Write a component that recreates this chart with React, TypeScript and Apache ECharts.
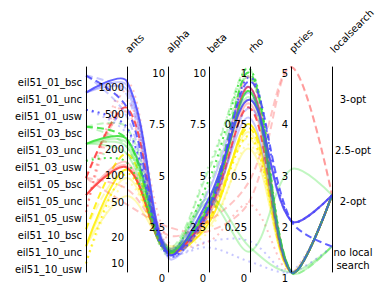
import React, { useEffect, useRef } from 'react';
import * as echarts from 'echarts';

const instances = [
  'eil51_01_bsc', 'eil51_01_unc', 'eil51_01_usw',
  'eil51_03_bsc', 'eil51_03_unc', 'eil51_03_usw',
  'eil51_05_bsc', 'eil51_05_unc', 'eil51_05_usw',
  'eil51_10_bsc', 'eil51_10_unc', 'eil51_10_usw',
];
const localSearchLevels = ['no local search', '2-opt', '2.5-opt', '3-opt'];
const antsTicks = [10, 20, 50, 100, 200, 500, 1000];
const axisNames = ['', 'ants', 'alpha', 'beta', 'rho', 'ptries', 'localsearch'];

// one entry per configuration line (column arrays)
const lineInstance = [
  'eil51_01_bsc', 'eil51_01_bsc', 'eil51_01_bsc',
  'eil51_01_unc', 'eil51_01_unc', 'eil51_01_unc',
  'eil51_01_usw', 'eil51_01_usw', 'eil51_01_usw',
  'eil51_03_bsc', 'eil51_03_bsc', 'eil51_03_bsc',
  'eil51_03_unc', 'eil51_03_unc', 'eil51_03_unc', 'eil51_03_unc',
  'eil51_03_usw', 'eil51_03_usw',
  'eil51_05_bsc', 'eil51_05_bsc', 'eil51_05_bsc', 'eil51_05_bsc',
  'eil51_05_unc', 'eil51_05_unc', 'eil51_05_unc',
  'eil51_05_usw', 'eil51_05_usw', 'eil51_05_usw',
  'eil51_10_bsc', 'eil51_10_bsc',
  'eil51_10_unc', 'eil51_10_unc', 'eil51_10_unc',
  'eil51_10_usw', 'eil51_10_usw',
];
const lineAnts = [
  700, 400, 500,
  800, 900, 1000,
  250, 280, 300,
  180, 300, 220,
  150, 200, 180, 220,
  150, 120,
  40, 60, 450, 500,
  120, 110, 105,
  1000, 800, 600,
  100, 150,
  50, 80, 100,
  70, 90,
];
const lineAlpha = [
  0.8, 1.2, 0.9,
  0.7, 1.1, 0.9,
  1.0, 0.9, 0.8,
  0.9, 1.2, 1.0,
  0.9, 1.0, 1.2, 1.1,
  0.8, 1.0,
  2.2, 1.8, 0.9, 1.0,
  0.9, 1.0, 1.0,
  1.5, 1.0, 1.2,
  1.2, 1.0,
  1.3, 1.1, 1.0,
  1.2, 1.0,
];
const lineBeta = [
  2.8, 3.5, 3.2,
  3.0, 4.0, 3.6,
  1.2, 1.5, 3.0,
  4.2, 5.0, 3.4,
  3.4, 3.6, 3.3, 3.2,
  5.2, 4.5,
  2.0, 2.5, 3.2, 3.0,
  2.8, 3.4, 3.0,
  1.5, 3.5, 2.5,
  3.0, 2.6,
  2.2, 2.8, 2.4,
  2.0, 2.6,
];
const lineRho = [
  0.80, 0.87, 0.93,
  0.75, 0.90, 0.84,
  0.05, 0.15, 0.95,
  0.95, 0.99, 0.97,
  0.10, 0.12, 0.85, 0.88,
  0.95, 0.99,
  0.35, 0.45, 0.95, 0.80,
  0.82, 0.84, 0.90,
  0.33, 0.95, 0.90,
  0.65, 0.70,
  0.60, 0.68, 0.72,
  0.62, 0.66,
];
const linePtries = [
  2, 1, 2,
  1, 1, 2,
  1, 1, 2,
  1, 1, 1,
  3, 1, 1, 1,
  1, 1,
  5, 5, 1, 1,
  1, 2, 1,
  1, 1, 1,
  1, 1,
  1, 1, 1,
  1, 1,
];
const lineLocalSearch = [
  '2-opt', '2-opt', 'no local search',
  '2-opt', '2-opt', '2-opt',
  'no local search', '2-opt', '2-opt',
  'no local search', '2-opt', '2-opt',
  '2-opt', 'no local search', 'no local search', '2-opt',
  '2-opt', '2-opt',
  '2-opt', '2-opt', '2-opt', '2-opt',
  '2-opt', '2-opt', '2-opt',
  '2-opt', '2-opt', '2-opt',
  '2-opt', '2-opt',
  '2-opt', '2-opt', '2-opt',
  '2-opt', '2-opt',
];
const lineBold = [
  0, 0, 1,
  0, 0, 1,
  0, 0, 1,
  0, 0, 1,
  0, 0, 0, 1,
  0, 1,
  0, 0, 0, 1,
  0, 0, 1,
  0, 0, 0,
  0, 1,
  0, 0, 1,
  0, 1,
];

const groupColor: Record<string, string> = {
  '01': '#4646ff',
  '03': '#33e033',
  '05': '#ff3a3a',
  '10': '#ffee00',
};
const kindDash: Record<string, any> = {
  bsc: [7, 4],
  unc: 'solid',
  usw: [2, 4],
};

const FONT = 'DejaVu Sans';

function buildOption() {
  const series = instances
    .slice()
    .reverse()
    .map((inst) => {
      const parts = inst.split('_');
      const num = parts[1];
      const kind = parts[2];
      const data: any[] = [];
      lineInstance.forEach((li, i) => {
        if (li !== inst) return;
        data.push({
          value: [inst, lineAnts[i], lineAlpha[i], lineBeta[i], lineRho[i], linePtries[i], lineLocalSearch[i]],
          lineStyle: { opacity: lineBold[i] ? 0.85 : 0.3 },
        });
      });
      data.sort((a, b) => a.lineStyle.opacity - b.lineStyle.opacity);
      return {
        type: 'parallel',
        name: inst,
        smooth: 0.35,
        color: groupColor[num],
        lineStyle: { width: 2, type: kindDash[kind], color: groupColor[num], opacity: 0.3 },
        emphasis: { disabled: true },
        data,
      };
    });

  const labelBase = {
    color: '#000',
    fontSize: 10,
    fontFamily: FONT,
    margin: -3,
    align: 'right',
    verticalAlign: 'top',
    lineHeight: 13,
  };

  return {
    animation: false,
    backgroundColor: '#ffffff',
    textStyle: { fontFamily: FONT },
    parallel: {
      left: 86,
      right: 50,
      top: 67,
      bottom: 15,
      parallelAxisDefault: {
        nameLocation: 'end',
        nameRotate: 45,
        nameGap: 16,
        nameTextStyle: { color: '#000', fontSize: 10, fontFamily: FONT, align: 'left', verticalAlign: 'middle' },
        axisLine: { lineStyle: { color: '#000', width: 1 } },
        axisTick: { show: false },
        splitLine: { show: false },
        axisLabel: labelBase,
      },
    },
    parallelAxis: [
      {
        dim: 0,
        name: axisNames[0],
        type: 'category',
        data: instances,
        inverse: true,
        boundaryGap: true,
        axisLabel: { ...labelBase, interval: 0, margin: -4, hideOverlap: false },
      },
      {
        dim: 1,
        name: axisNames[1],
        type: 'log',
        logBase: 10,
        min: 6.84,
        max: 1460,
        axisLabel: {
          ...labelBase,
          customValues: antsTicks,
          formatter: (v: number) => String(Math.round(v)),
        },
      },
      { dim: 2, name: axisNames[2], type: 'value', min: 0, max: 10, interval: 2.5, axisLabel: labelBase },
      { dim: 3, name: axisNames[3], type: 'value', min: 0, max: 10, interval: 2.5, axisLabel: labelBase },
      { dim: 4, name: axisNames[4], type: 'value', min: 0, max: 1, interval: 0.25, axisLabel: labelBase },
      { dim: 5, name: axisNames[5], type: 'value', min: 1, max: 5, interval: 1, axisLabel: labelBase },
      {
        dim: 6,
        name: axisNames[6],
        type: 'category',
        data: localSearchLevels,
        boundaryGap: true,
        axisLabel: {
          ...labelBase,
          interval: 0,
          margin: 21,
          align: 'center',
          formatter: (v: string) => (v === 'no local search' ? 'no local\nsearch' : v),
        },
      },
    ],
    series,
  };
}

export default function App() {
  const ref = useRef<HTMLDivElement>(null);
  useEffect(() => {
    document.body.style.margin = '0';
    const chart = echarts.init(ref.current as HTMLDivElement, null, { renderer: 'svg' });
    chart.setOption(buildOption() as any);
    return () => chart.dispose();
  }, []);
  return <div ref={ref} style={{ width: 382, height: 287 }} />;
}
